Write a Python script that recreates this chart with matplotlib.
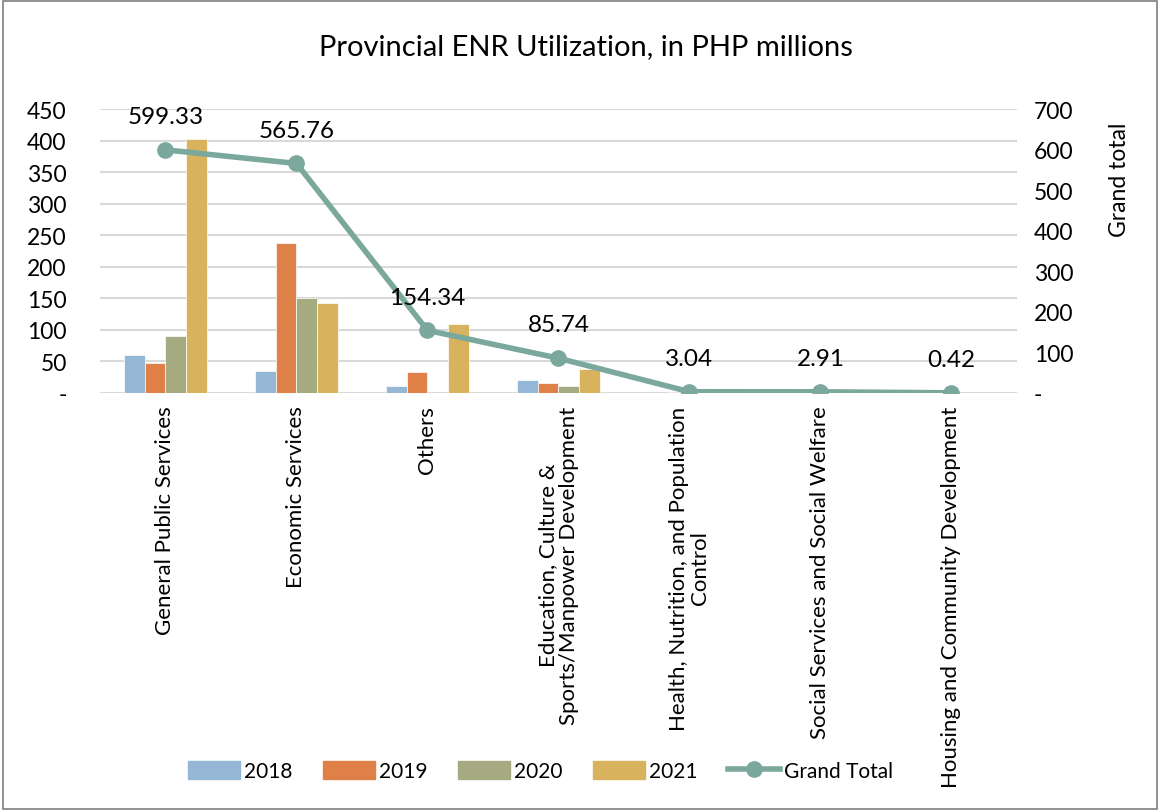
import matplotlib
matplotlib.use("Agg")
import matplotlib.pyplot as plt
import numpy as np
from matplotlib.patches import Rectangle
from matplotlib.lines import Line2D

plt.rcParams['font.family'] = ['Lato', 'DejaVu Sans']

categories = ["General Public Services", "Economic Services", "Others",
              "Education, Culture &\nSports/Manpower Development",
              "Health, Nutrition, and Population\nControl",
              "Social Services and Social Welfare",
              "Housing and Community Development"]
years = ["2018", "2019", "2020", "2021"]
v2018 = [60, 35, 11, 21, 0.5, 0.6, 0.1]
v2019 = [47, 237, 34, 16, 0.8, 0.7, 0.1]
v2020 = [90, 151, 0, 11, 0.7, 0.8, 0.1]
v2021 = [402, 143, 109, 38, 1.04, 0.81, 0.12]
grand_total = [599.33, 565.76, 154.34, 85.74, 3.04, 2.91, 0.42]
left_ticks = [0, 50, 100, 150, 200, 250, 300, 350, 400, 450]
right_ticks = [0, 100, 200, 300, 400, 500, 600, 700]

colors = ["#95b7d5", "#df8048", "#a5aa80", "#d9b25e"]
line_color = "#7ba89c"

fig = plt.figure(figsize=(11.6, 8.12), dpi=100)
fig.patches.append(Rectangle((0.003, 0.003), 0.994, 0.994, transform=fig.transFigure,
                             fill=False, edgecolor="#7f7f7f", lw=1.2))
ax = fig.add_axes([0.0862, 0.5148, 0.7905, 0.3497])
x = np.arange(len(categories))
w = 0.16
series = [v2018, v2019, v2020, v2021]
for i, (s, c) in enumerate(zip(series, colors)):
    ax.bar(x + (i - 1.5) * w, s, width=w, color=c, edgecolor="white", linewidth=0.5,
           label=years[i], zorder=2)
ax.set_xlim(-0.5, len(categories) - 0.5)
ax.set_ylim(0, 450)
ax.set_yticks(left_ticks)
ax.set_yticklabels(["-" if t == 0 else str(t) for t in left_ticks], fontsize=16.5)
ax.yaxis.grid(True, color="#d9d9d9", lw=1.5, zorder=0)
ax.set_axisbelow(True)
for sp in ax.spines.values():
    sp.set_visible(False)
ax.tick_params(axis='both', length=0)
ax.tick_params(axis='y', pad=24)
ax.set_xticks(x)
ax.set_xticklabels(categories, rotation=90, fontsize=16, ha='center', va='top',
                   multialignment='center', linespacing=1.05)
ax.tick_params(axis='x', pad=9)

ax2 = ax.twinx()
ax2.set_ylim(0, 700)
ax2.set_yticks(right_ticks)
ax2.set_yticklabels(["-" if t == 0 else str(t) for t in right_ticks], fontsize=16.5)
for sp in ax2.spines.values():
    sp.set_visible(False)
ax2.tick_params(axis='y', length=0, pad=12)
ax2.plot(x, grand_total, color=line_color, lw=4, marker='o', markersize=11, zorder=3)
for xi, v in zip(x, grand_total):
    ax2.annotate(f"{v:.2f}", (xi, v), xytext=(0, 24), textcoords='offset points',
                 ha='center', va='center', fontsize=17.5)

fig.text(1120 / 1160, 1 - 180 / 812, "Grand total", rotation=90, ha='center',
         va='center', fontsize=16.5)

fig.text(0.505, 0.942, "Provincial ENR Utilization, in PHP millions", ha='center',
         va='center', fontsize=21)

handles = [Rectangle((0, 0), 1, 1, color=c) for c in colors]
handles.append(Line2D([0], [0], color=line_color, lw=4, marker='o', markersize=11))
fig.legend(handles, years + ["Grand Total"], loc='center', bbox_to_anchor=(0.466, 0.049),
           ncol=5, frameon=False, fontsize=15, handlelength=2.5, handleheight=0.9,
           columnspacing=1.45, handletextpad=0.2)

fig.savefig("out.png", dpi=100)
